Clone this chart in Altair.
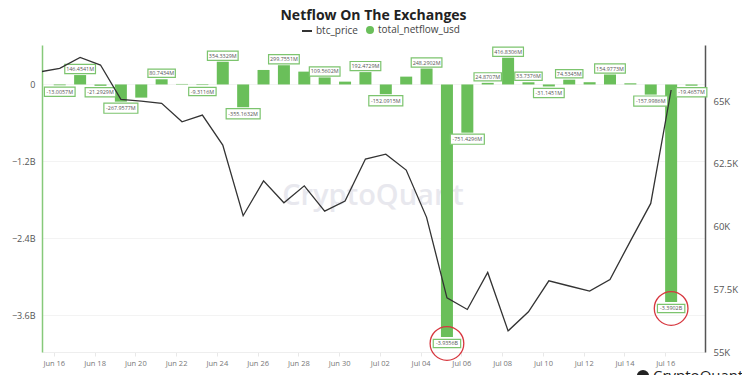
import altair as alt
import pandas as pd

GREEN = "#6abf5a"

dates = [
    "2024-06-15", "2024-06-16", "2024-06-17", "2024-06-18", "2024-06-19", "2024-06-20",
    "2024-06-21", "2024-06-22", "2024-06-23", "2024-06-24", "2024-06-25", "2024-06-26",
    "2024-06-27", "2024-06-28", "2024-06-29", "2024-06-30", "2024-07-01", "2024-07-02",
    "2024-07-03", "2024-07-04", "2024-07-05", "2024-07-06", "2024-07-07", "2024-07-08",
    "2024-07-09", "2024-07-10", "2024-07-11", "2024-07-12", "2024-07-13", "2024-07-14",
    "2024-07-15", "2024-07-16", "2024-07-17",
]

btc_price = [
    66160, 66300, 66740, 66435, 65070, 65000,
    64910, 64175, 64440, 63245, 60430, 61820,
    60945, 61620, 60615, 61015, 62690, 62885,
    62250, 60365, 57160, 56695, 58170, 55840,
    56600, 57835, 57630, 57425, 57890, 59420,
    60920, 65440, None,
]

# total netflow in millions USD
netflow_m = [
    None, -13.0057, 146.4541, -21.2929, -267.9577, -205.0,
    80.7434, 8.0, -9.3116, 354.3329, -355.1632, 226.0,
    299.7551, 200.0, 109.5602, 44.0, 192.4729, -152.0915,
    122.0, 248.2902, -3935.6, -751.4296, 24.8707, 416.8306,
    33.7376, -31.1451, 74.5345, 35.0, 154.9773, 18.0,
    -157.9986, -3390.2, -19.4657,
]

bar_labels = [
    "", "-13.0057M", "146.4541M", "-21.2929M", "-267.9577M", "",
    "80.7434M", "", "-9.3116M", "354.3329M", "-355.1632M", "",
    "299.7551M", "", "109.5602M", "", "192.4729M", "-152.0915M",
    "", "248.2902M", "-3.9356B", "-751.4296M", "24.8707M", "416.8306M",
    "33.7376M", "-31.1451M", "74.5345M", "", "154.9773M", "",
    "-157.9986M", "-3.3902B", "-19.4657M",
]

# x tick labels (ticks sit slightly left of the bars in the original)
x_tick_dates = ["2024-06-16", "2024-06-18", "2024-06-20", "2024-06-22", "2024-06-24",
                "2024-06-26", "2024-06-28", "2024-06-30", "2024-07-02", "2024-07-04",
                "2024-07-06", "2024-07-08", "2024-07-10", "2024-07-12", "2024-07-14",
                "2024-07-16"]

left_ticks = [-3600, -2400, -1200, 0]
right_ticks = [55000, 57500, 60000, 62500, 65000]

df = pd.DataFrame({"date": dates, "btc_price": btc_price,
                   "netflow": netflow_m, "label": bar_labels})


def dt(s, h=0):
    y, m, d = [int(p) for p in s.split("-")]
    return alt.DateTime(year=y, month=m, date=d, hours=h, utc=True)


def prev_evening(s):
    # the tick of day s is drawn 7 hours before its midnight
    ts = pd.Timestamp(s) - pd.Timedelta(hours=7)
    return alt.DateTime(year=ts.year, month=ts.month, date=ts.day, hours=ts.hour, utc=True)


FONT = "Open Sans"

x_enc = alt.X(
    "date:T",
    scale=alt.Scale(type="utc", domain=[dt("2024-06-15", 9), dt("2024-07-17", 10)]),
    axis=alt.Axis(values=[prev_evening(s) for s in x_tick_dates],
                  labelExpr="utcFormat(datum.value + 7*3600*1000, '%b %d')",
                  labelFontSize=7.5, labelColor="#777", labelFont=FONT,
                  tickColor="#e8e8e8", tickSize=4, domainColor="#eeeeee",
                  grid=False, labelPadding=3, title=None),
)

y_left = alt.Y(
    "netflow:Q",
    scale=alt.Scale(domain=[-4170, 615], nice=False, zero=False),
    axis=alt.Axis(orient="left", values=left_ticks,
                  labelExpr="datum.value == 0 ? '0' : format(datum.value/1000, '.1f') + 'B'",
                  domainColor="#86c97a", domainWidth=1.5, ticks=False,
                  labelPadding=7, labelFontSize=9, labelColor="#555", labelFont=FONT,
                  grid=True, gridColor="#f3f3f3", title=None),
)

color_bar = alt.Color(
    "series:N",
    scale=alt.Scale(domain=["total_netflow_usd"], range=[GREEN]),
    legend=alt.Legend(orient="none", legendX=323, legendY=-20, title=None,
                      labelFontSize=10, labelColor="#444", labelFont=FONT,
                      symbolType="circle", symbolSize=64, labelOffset=3),
)

stroke_line = alt.Stroke(
    "series:N",
    scale=alt.Scale(domain=["btc_price"], range=["#333333"]),
    legend=alt.Legend(orient="none", legendX=259, legendY=-20, title=None,
                      labelFontSize=10, labelColor="#444", labelFont=FONT,
                      symbolType="stroke", symbolSize=100, symbolStrokeWidth=2,
                      labelOffset=3),
)

base = alt.Chart(df)

bars = base.transform_filter("isValid(datum.netflow)").transform_calculate(
    series="'total_netflow_usd'"
).mark_bar(size=12).encode(x=x_enc, y=y_left, color=color_bar)

labeled = base.transform_filter("datum.label != ''").transform_calculate(
    boxsize="pow(length(datum.label) * 3.3 + 1, 2)"
)
BOX = "M-1,-0.3H1V0.3H-1Z"

pos = labeled.transform_filter("datum.netflow >= 0")
neg = labeled.transform_filter("datum.netflow < 0")

box_pos = pos.mark_point(shape=BOX, filled=True, fill="white", stroke="#7cc46e",
                         strokeWidth=1.2, opacity=1, yOffset=-6).encode(
    x=x_enc, y=y_left, size=alt.Size("boxsize:Q", scale=None))
box_neg = neg.mark_point(shape=BOX, filled=True, fill="white", stroke="#7cc46e",
                         strokeWidth=1.2, opacity=1, yOffset=6.5).encode(
    x=x_enc, y=y_left, size=alt.Size("boxsize:Q", scale=None))
txt_pos = pos.mark_text(fontSize=5.4, color="#555", font=FONT, yOffset=-6,
                        baseline="middle").encode(x=x_enc, y=y_left, text="label:N")
txt_neg = neg.mark_text(fontSize=5.4, color="#555", font=FONT, yOffset=6.5,
                        baseline="middle").encode(x=x_enc, y=y_left, text="label:N")

circles = base.transform_filter("datum.netflow < -3000").mark_point(
    shape="circle", size=1134, filled=False, stroke="#d7373f", strokeWidth=1.3,
    opacity=1, yOffset=6.5).encode(x=x_enc, y=y_left)

wm = alt.Chart(pd.DataFrame({"t": ["CryptoQuant"]})).mark_text(
    fontSize=29, color="#e8e8ee", font=FONT, fontWeight=600, align="center",
    baseline="middle").encode(text="t:N", x=alt.value(331), y=alt.value(151))

footer = alt.Chart(pd.DataFrame({"t": ["The most sold coin on the exchanges"]})).mark_text(
    fontSize=8.5, color="#888", font=FONT, align="center", baseline="alphabetic"
).encode(text="t:N", x=alt.value(332), y=alt.value(340))

brand = alt.Chart(pd.DataFrame({"t": ["CryptoQuant"]})).mark_text(
    fontSize=15, color="#222", font=FONT, align="left", baseline="alphabetic"
).encode(text="t:N", x=alt.value(611), y=alt.value(336))

logo = alt.Chart(pd.DataFrame({"t": ["logo"]})).mark_point(
    shape="circle", filled=True, color="#222", size=150, opacity=1
).encode(x=alt.value(601), y=alt.value(331))

left = alt.layer(wm, bars, box_pos, box_neg, txt_pos, txt_neg, circles,
                 footer, brand, logo)

line = base.transform_filter("isValid(datum.btc_price)").transform_calculate(
    series="'btc_price'"
).mark_line(clip=True, strokeWidth=1.3).encode(
    x=x_enc,
    y=alt.Y("btc_price:Q",
            scale=alt.Scale(domain=[55000, 67233], nice=False, zero=False),
            axis=alt.Axis(orient="right", values=right_ticks,
                          labelExpr="format(datum.value/1000, '.1~f') + 'K'",
                          domainColor="#555", domainWidth=1.5, ticks=False,
                          labelPadding=8, labelFontSize=9.5, labelColor="#555",
                          labelFont=FONT, grid=False, title=None)),
    stroke=stroke_line,
)

chart = alt.layer(left, line).resolve_scale(y="independent").properties(
    width=663, height=307,
    padding={"left": 34, "top": 37, "right": 37, "bottom": 23},
    autosize=alt.AutoSizeParams(type="none"),
    title=alt.TitleParams("Netflow On The Exchanges", fontSize=14, fontWeight="bold",
                          font=FONT, color="#222", offset=2, anchor="middle",
                          frame="group"),
).configure_view(stroke=None)

chart.save("out.html", embed_options={"renderer": "svg", "actions": False})
